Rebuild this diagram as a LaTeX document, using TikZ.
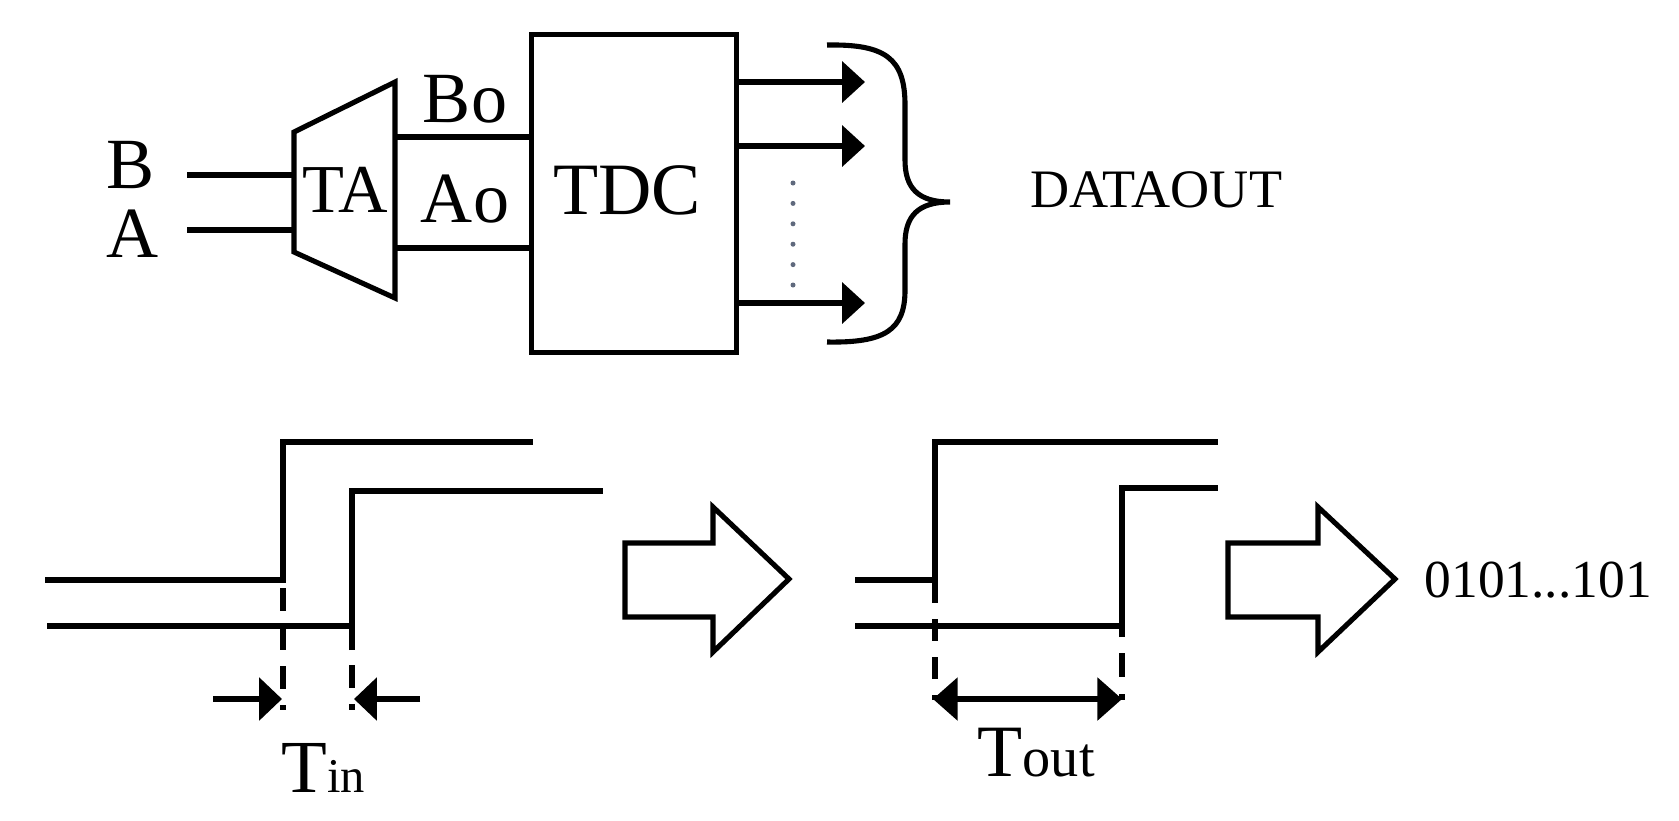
\documentclass[tikz,border=0pt]{standalone}
\usepackage{fontspec}
\setmainfont{Liberation Serif}
\usetikzlibrary{arrows.meta}
\definecolor{dotcol}{RGB}{95,105,125}
\tikzset{
  wire/.style={line width=1.45pt},
  outarrow/.style={wire, -{Triangle[length=6.5pt,width=11.5pt]}},
  hollow/.style={wire, line join=miter},
  dashv/.style={wire, dash pattern=on 0.23cm off 0.16cm},
  lbl/.style={inner sep=0pt, anchor=base, font=\fontsize{20.5pt}{24pt}\selectfont},
  small/.style={inner sep=0pt, anchor=base west, font=\fontsize{15.4pt}{18pt}\selectfont},
  tdcbox/.style={draw, wire, minimum width=2.04cm, minimum height=3.17cm, inner sep=0pt},
}
\begin{document}
\begin{tikzpicture}[x=0.01cm, y=-0.01cm]
\useasboundingbox (0,0) rectangle (1679,820);
% ---------------- top: circuit ----------------
\node[lbl] (lB) at (131,188) {B};
\node[lbl] (lA) at (133,257) {A};
\coordinate (inB) at (187,175);
\coordinate (inA) at (187,230);
\coordinate (taB) at (294,175);
\coordinate (taA) at (294,230);
\draw[wire] (inB) -- (taB);
\draw[wire] (inA) -- (taA);
% TA trapezoid
\draw[wire, line join=miter] (294,132) -- (395,82) -- (395,298) -- (294,252) -- cycle;
\node[lbl, font=\fontsize{19.5pt}{23pt}\selectfont] (ta) at (345,212) {TA};
% TDC
\node[tdcbox] (tdc) at (634,193.5) {};
\node[lbl, font=\fontsize{21pt}{25pt}\selectfont] (tdctxt) at (627,214) {TDC};
\coordinate (taBo) at (395,137);
\coordinate (taAo) at (395,248);
\draw[wire] (taBo) -- (taBo -| tdc.west);
\draw[wire] (taAo) -- (taAo -| tdc.west);
\node[lbl] (lBo) at (465,122) {Bo};
\node[lbl] (lAo) at (465,222) {Ao};
% outputs
\coordinate (o1) at (865,82);
\coordinate (o2) at (865,146);
\coordinate (o3) at (865,303);
\draw[outarrow] (o1 -| tdc.east) -- (o1);
\draw[outarrow] (o2 -| tdc.east) -- (o2);
\draw[outarrow] (o3 -| tdc.east) -- (o3);
\foreach \yy in {183,203.4,223.8,244.2,264.6,285}
  \fill[dotcol] (793,\yy) circle[radius=2.5];
% brace
\draw[wire] (827,45) .. controls (885,44) and (905,58) .. (905,105)
  -- (905,160) .. controls (905,188) and (918,202) .. (950,202)
  .. controls (918,202) and (905,216) .. (905,244)
  -- (905,290) .. controls (905,330) and (885,343) .. (827,342);
\node[small] (dout) at (1030,207) {DATAOUT};
% ---------------- bottom left: input waveforms ----------------
\draw[wire] (45,580) -- (283,580) -- (283,442) -- (533,442);
\draw[wire] (47,626) -- (352,626);
\draw[wire] (352,650) -- (352,491) -- (603,491);
\draw[dashv] (283,588) -- (283,710);
\draw[dashv] (352,665) -- (352,710);
\coordinate (tinL) at (213,699);
\coordinate (tinR) at (420,699);
\draw[wire, -{Triangle[length=6.5pt,width=12pt]}] (tinL) -- (282,699);
\draw[wire, -{Triangle[length=6.5pt,width=12pt]}] (tinR) -- (354,699);
\node[inner sep=0pt, anchor=base west] (tin) at (281,792)
  {\fontsize{21.3pt}{25pt}\selectfont T\fontsize{13.8pt}{16pt}\selectfont in};
% hollow arrow 1
\draw[hollow] (625,543) -- (713,543) -- (713,507) -- (789,579) -- (713,652) -- (713,617) -- (625,617) -- cycle;
% ---------------- bottom right: output waveforms ----------------
\draw[wire] (855,580) -- (935,580);
\draw[wire] (935,600) -- (935,442) -- (1218,442);
\draw[wire] (855,626) -- (1122,626);
\draw[wire] (1122,637) -- (1122,488) -- (1218,488);
\draw[dashv, dash pattern=on 0.22cm off 0.16cm] (935,581) -- (935,700);
\draw[dashv, dash pattern=on 0.24cm off 0.17cm] (1122,653) -- (1122,700);
\coordinate (toutL) at (933,699);
\coordinate (toutR) at (1122,699);
\draw[wire, {Triangle[length=7pt,width=12pt]}-{Triangle[length=7pt,width=12pt]}] (toutL) -- (toutR);
\node[inner sep=0pt, anchor=base west] (tout) at (977,776)
  {\fontsize{21pt}{25pt}\selectfont T\fontsize{16pt}{19pt}\selectfont out};
% hollow arrow 2
\draw[hollow] (1228,543) -- (1318,543) -- (1318,507) -- (1395,579) -- (1318,652) -- (1318,617) -- (1228,617) -- cycle;
\node[small, font=\fontsize{15.2pt}{18pt}\selectfont] (bits) at (1424,597) {0101...101};
\end{tikzpicture}
\end{document}
